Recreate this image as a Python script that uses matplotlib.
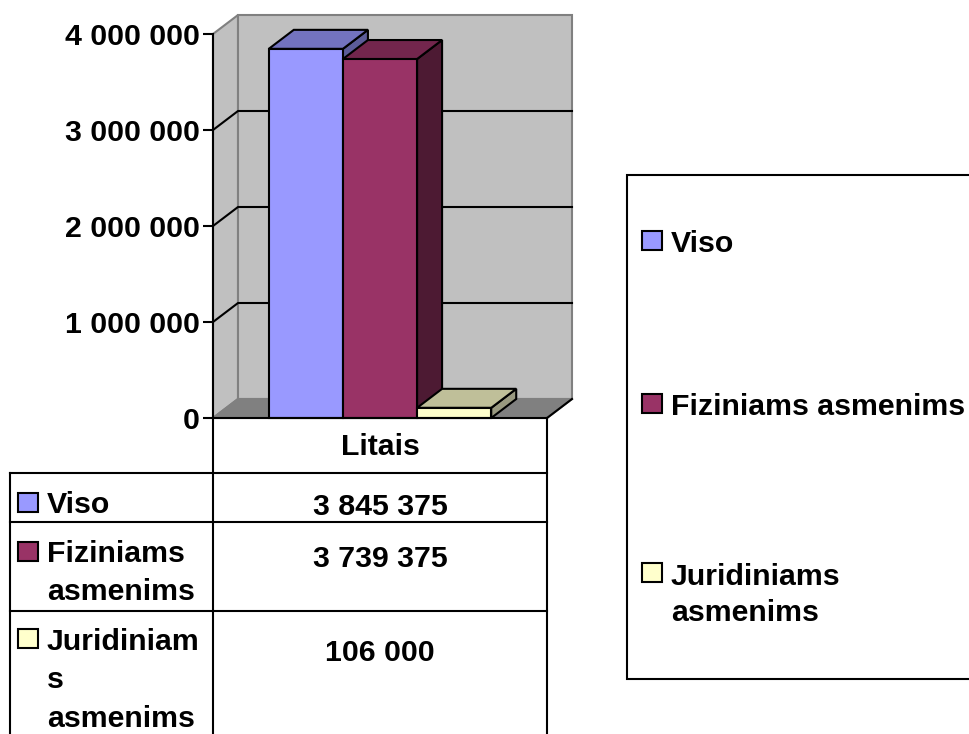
import matplotlib
matplotlib.use("Agg")
import matplotlib.pyplot as plt
from matplotlib.patches import Polygon, Rectangle
from matplotlib.lines import Line2D

# ---------------- data ----------------
series = ["Viso", "Fiziniams asmenims", "Juridiniams asmenims"]
values = [3845375, 3739375, 106000]
category = "Litais"
yticks = [0, 1000000, 2000000, 3000000, 4000000]
front_colors = ["#9999ff", "#993366", "#ffffcc"]
top_colors = ["#7373bf", "#73264d", "#bfbf99"]
side_colors = ["#5c5c99", "#4d1a33", "#999980"]
table_lines = [["Viso"], ["Fiziniams", "asmenims"], ["Juridiniam", "s", "asmenims"]]
legend_lines = [["Viso"], ["Fiziniams asmenims"], ["Juridiniams", "asmenims"]]


def fmt(v):
    return f"{v:,}".replace(",", " ")


W, H, DPI = 969, 734, 100
fig = plt.figure(figsize=(W / DPI, H / DPI), dpi=DPI)
fig.patch.set_facecolor("white")
FONT = dict(family="Liberation Sans", weight="bold", size=21.8)
LW = 1.5


def fx(px):
    return px / W


def fy(py):
    return 1 - py / H


# ---------------- main 3D-like plot ----------------
ax = fig.add_axes([fx(213), fy(418), fx(547) - fx(213), fy(34) - fy(418)])
ymax = yticks[-1]
ax.set_xlim(-0.5, 0.5)
ax.set_ylim(0, ymax)
ax.patch.set_visible(False)
dx = 25 / 334
dy = 19 * ymax / 384

wall_c = "#c0c0c0"
floor_c = "#808080"
edge_c = "#808080"
# left wall
ax.add_patch(Polygon([(-0.5, 0), (-0.5, ymax), (-0.5 + dx, ymax + dy), (-0.5 + dx, dy)],
                     closed=True, facecolor=wall_c, edgecolor=edge_c, lw=LW, clip_on=False, zorder=1))
# back wall
ax.add_patch(Polygon([(-0.5 + dx, dy), (-0.5 + dx, ymax + dy), (0.5 + dx, ymax + dy), (0.5 + dx, dy)],
                     closed=True, facecolor=wall_c, edgecolor=edge_c, lw=LW, clip_on=False, zorder=1))
# floor
ax.add_patch(Polygon([(-0.5, 0), (-0.5 + dx, dy), (0.5 + dx, dy), (0.5, 0)],
                     closed=True, facecolor=floor_c, edgecolor=edge_c, lw=LW, clip_on=False, zorder=1))
ax.add_line(Line2D([0.5, 0.5 + dx], [0, dy], color="black", lw=LW, clip_on=False, zorder=2))

# gridlines
for t in yticks[1:-1]:
    ax.add_line(Line2D([-0.5, -0.5 + dx, 0.5 + dx], [t, t + dy, t + dy],
                       color="black", lw=LW, clip_on=False, zorder=2))

# bars
w = 0.222
n = len(values)
for i, v in enumerate(values):
    x0 = -n / 2 * w + i * w
    z = 3 + i
    ax.add_patch(Polygon([(x0 + w, 0), (x0 + w, v), (x0 + w + dx, v + dy), (x0 + w + dx, dy)],
                         closed=True, facecolor=side_colors[i], edgecolor="black", lw=LW,
                         clip_on=False, zorder=z, joinstyle="miter"))
    ax.add_patch(Polygon([(x0, v), (x0 + w, v), (x0 + w + dx, v + dy), (x0 + dx, v + dy)],
                         closed=True, facecolor=top_colors[i], edgecolor="black", lw=LW,
                         clip_on=False, zorder=z, joinstyle="miter"))
    ax.add_patch(Rectangle((x0, 0), w, v, facecolor=front_colors[i], edgecolor="black", lw=LW,
                           clip_on=False, zorder=z, joinstyle="miter"))

ax.set_yticks(yticks)
ax.set_yticklabels([fmt(t) for t in yticks])
for lab in ax.get_yticklabels():
    lab.set_fontfamily(FONT["family"])
    lab.set_fontweight("bold")
    lab.set_fontsize(FONT["size"])
ax.tick_params(axis="y", direction="out", length=7.2, width=LW, pad=2.5, color="black")
ax.set_xticks([])
for s in ["top", "right"]:
    ax.spines[s].set_visible(False)
for s in ["left", "bottom"]:
    ax.spines[s].set_color("black")
    ax.spines[s].set_linewidth(LW)
    ax.spines[s].set_zorder(10)

# ---------------- overlay: data table and legend ----------------
ov = fig.add_axes([0, 0, 1, 1])
ov.set_xlim(0, W)
ov.set_ylim(H, 0)
ov.axis("off")


def hline(y, x1, x2):
    ov.add_line(Line2D([x1, x2], [y, y], color="black", lw=LW, solid_capstyle="projecting"))


def vline(x, y1, y2):
    ov.add_line(Line2D([x, x], [y1, y2], color="black", lw=LW, solid_capstyle="projecting"))


# table grid
vline(213, 418, H + 5)
vline(547, 418, H + 5)
vline(10, 473, H + 5)
for yy in [473, 522, 611]:
    hline(yy, 10, 547)

ov.text(380, 455, category, ha="center", va="baseline", **FONT)

key_tops = [493, 542, 629]
label_baselines = [[513], [562, 600], [650, 688, 727]]
value_baselines = [515, 567, 661]
for i in range(n):
    ov.add_patch(Rectangle((18, key_tops[i]), 20, 19, facecolor=front_colors[i],
                           edgecolor="black", lw=LW))
    for line, bl in zip(table_lines[i], label_baselines[i]):
        ov.text(47, bl, line, ha="left", va="baseline", **FONT)
    ov.text(380, value_baselines[i], fmt(values[i]), ha="center", va="baseline", **FONT)

# legend
ov.add_patch(Rectangle((627, 175), 360, 504, facecolor="white", edgecolor="black", lw=LW))
leg_key_tops = [231, 394, 563]
leg_baselines = [[252], [415], [585, 621]]
for i in range(n):
    ov.add_patch(Rectangle((642, leg_key_tops[i]), 20, 19, facecolor=front_colors[i],
                           edgecolor="black", lw=LW))
    for line, bl in zip(legend_lines[i], leg_baselines[i]):
        ov.text(671, bl, line, ha="left", va="baseline", **FONT)

fig.savefig("out.png", dpi=DPI)
